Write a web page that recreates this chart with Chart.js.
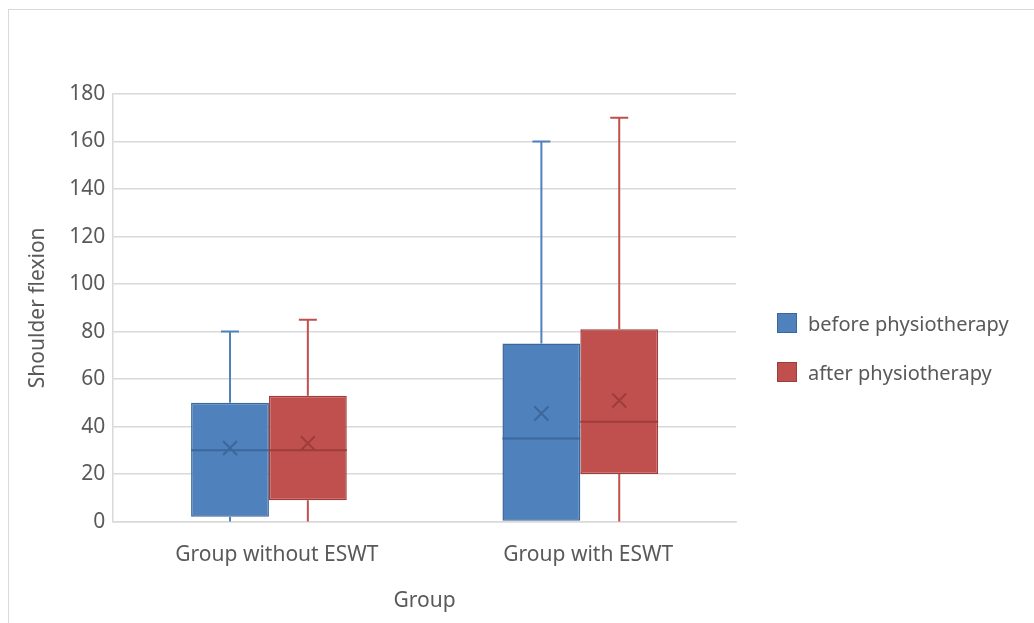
<!DOCTYPE html>
<html>
<head>
<meta charset="utf-8">
<script src="https://cdn.jsdelivr.net/npm/chart.js@4.4.0/dist/chart.umd.min.js"></script>
<style>
  html, body { margin: 0; padding: 0; background: #fff; overflow: hidden; }
  #frame { position: absolute; left: 8px; top: 9px; width: 1040px; height: 620px; border: 1px solid #d9d9d9; }
  #wrap { position: absolute; left: 0; top: 0; width: 1034px; height: 623px; }
  #legend { position: absolute; left: 777px; top: 311px; font-family: 'Noto Sans', 'Open Sans', sans-serif; font-size: 20px; color: #595959; }
  #legend .item { display: flex; align-items: center; height: 24px; margin-bottom: 25px; white-space: nowrap; }
  #legend .swatch { width: 18px; height: 18px; border: 1px solid; margin-right: 11px; }
</style>
</head>
<body>
<div id="frame"></div>
<div id="wrap"><canvas id="boxChart"></canvas></div>
<div id="legend"></div>
<script>
const groups = ['Group without ESWT', 'Group with ESWT'];

// before physiotherapy
const beforeMin = [0, 0];
const beforeQ1 = [2, 0];
const beforeMedian = [30, 35];
const beforeQ3 = [50, 75];
const beforeMax = [80, 160];
const beforeMean = [31, 45.5];

// after physiotherapy
const afterMin = [0, 0];
const afterQ1 = [9, 20];
const afterMedian = [30, 42];
const afterQ3 = [53, 81];
const afterMax = [85, 170];
const afterMean = [33, 51];

const yTicks = [0, 20, 40, 60, 80, 100, 120, 140, 160, 180];

const textColor = '#595959';
const gridColor = '#d9d9d9';
const font = { family: "'Noto Sans', 'Open Sans', sans-serif", size: 21 };

// whiskers, median line and mean cross on top of the q1-q3 bars
const boxExtras = {
    id: 'boxExtras',
    afterDatasetsDraw(chart) {
        const ctx = chart.ctx;
        const yScale = chart.scales.y;
        chart.data.datasets.forEach((ds, di) => {
            const meta = chart.getDatasetMeta(di);
            meta.data.forEach((bar, i) => {
                const x = bar.x;
                const half = bar.width / 2;
                const pMin = yScale.getPixelForValue(ds.stats.min[i]);
                const pQ1 = yScale.getPixelForValue(ds.stats.q1[i]);
                const pQ3 = yScale.getPixelForValue(ds.stats.q3[i]);
                const pMax = yScale.getPixelForValue(ds.stats.max[i]);
                const pMed = yScale.getPixelForValue(ds.stats.median[i]);
                const pMean = yScale.getPixelForValue(ds.stats.mean[i]);
                const cap = 9;

                ctx.save();
                ctx.strokeStyle = ds.whiskerColor;
                ctx.lineWidth = 2;
                ctx.beginPath();
                ctx.moveTo(x, pQ3); ctx.lineTo(x, pMax);
                ctx.moveTo(x - cap, pMax); ctx.lineTo(x + cap, pMax);
                if (pMin > pQ1) {
                    ctx.moveTo(x, pQ1); ctx.lineTo(x, pMin);
                }
                ctx.stroke();

                ctx.strokeStyle = ds.borderColor;
                ctx.lineWidth = 2;
                ctx.beginPath();
                ctx.moveTo(x - half, pMed); ctx.lineTo(x + half, pMed);
                const m = 7;
                ctx.moveTo(x - m, pMean - m); ctx.lineTo(x + m, pMean + m);
                ctx.moveTo(x - m, pMean + m); ctx.lineTo(x + m, pMean - m);
                ctx.stroke();
                ctx.restore();
            });
        });
    }
};

const ctx = document.getElementById('boxChart').getContext('2d');

const chart = new Chart(ctx, {
    type: 'bar',
    data: {
        labels: groups,
        datasets: [
            {
                label: 'before physiotherapy',
                data: groups.map((g, i) => [beforeQ1[i], beforeQ3[i]]),
                stats: { min: beforeMin, q1: beforeQ1, median: beforeMedian, q3: beforeQ3, max: beforeMax, mean: beforeMean },
                backgroundColor: '#4f81bd',
                borderColor: '#3c679b',
                whiskerColor: '#4f81bd',
                borderWidth: 1.5,
                borderSkipped: false
            },
            {
                label: 'after physiotherapy',
                data: groups.map((g, i) => [afterQ1[i], afterQ3[i]]),
                stats: { min: afterMin, q1: afterQ1, median: afterMedian, q3: afterQ3, max: afterMax, mean: afterMean },
                backgroundColor: '#c0504d',
                borderColor: '#9e3d3a',
                whiskerColor: '#c0504d',
                borderWidth: 1.5,
                borderSkipped: false
            }
        ]
    },
    options: {
        responsive: true,
        maintainAspectRatio: false,
        animation: false,
        categoryPercentage: 0.5,
        barPercentage: 1.0,
        layout: { padding: { top: 94, bottom: 5, left: 15, right: 298 } },
        plugins: {
            tooltip: { enabled: false },
            legend: { display: false }
        },
        scales: {
            x: {
                grid: { display: false, drawTicks: false },
                border: { display: true, color: gridColor, width: 1.5 },
                ticks: { color: textColor, font: font, padding: 21, labelOffset: 8 },
                title: { display: true, text: 'Group', color: textColor, font: font, padding: { top: 0, bottom: 4 } }
            },
            y: {
                min: yTicks[0],
                max: yTicks[yTicks.length - 1],
                afterBuildTicks: (scale) => { scale.ticks = yTicks.map(v => ({ value: v })); },
                grid: { color: gridColor, lineWidth: 1.5, drawTicks: false },
                border: { display: true, color: gridColor, width: 1.5 },
                ticks: { color: textColor, font: font, padding: 8 },
                title: { display: true, text: 'Shoulder flexion', color: textColor, font: font, padding: { top: 10, bottom: 11 } }
            }
        }
    },
    plugins: [boxExtras]
});

// legend built from the chart's own datasets
const legendEl = document.getElementById('legend');
chart.data.datasets.forEach(ds => {
    const item = document.createElement('div');
    item.className = 'item';
    const sw = document.createElement('span');
    sw.className = 'swatch';
    sw.style.background = ds.backgroundColor;
    sw.style.borderColor = ds.borderColor;
    const txt = document.createElement('span');
    txt.textContent = ds.label;
    item.appendChild(sw);
    item.appendChild(txt);
    legendEl.appendChild(item);
});
</script>
</body>
</html>
